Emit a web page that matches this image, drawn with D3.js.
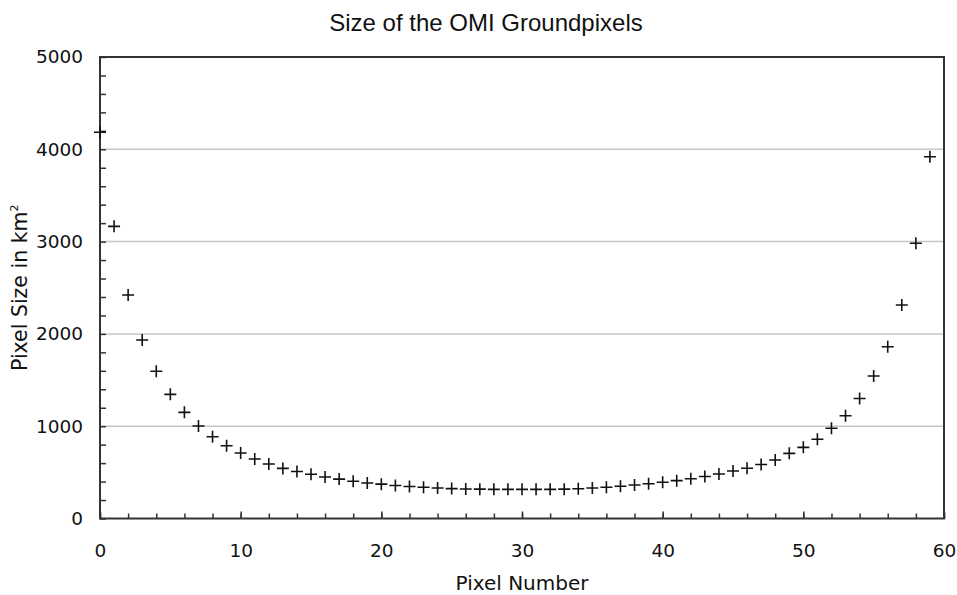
<!DOCTYPE html>
<html>
<head>
<meta charset="utf-8">
<script src="https://cdn.jsdelivr.net/npm/d3@7"></script>
<style>
  html, body { margin: 0; padding: 0; background: #fff; }
  svg { display: block; }
</style>
</head>
<body>
<svg id="chart" width="957" height="595"></svg>
<script>
// ---- data ----
const pixelNumbers = d3.range(0, 60);
const pixelSizes = [
  4185, 3165, 2421, 1934, 1595, 1345, 1150, 1002, 886, 788,
  710, 645, 590, 543, 510, 479, 450, 427, 403, 385,
  372, 358, 347, 338, 330, 324, 320, 318, 316, 316,
  316, 316, 316, 318, 323, 330, 338, 350, 363, 376,
  392, 410, 430, 455, 482, 515, 545, 585, 634, 706,
  771, 858, 977, 1114, 1300, 1544, 1861, 2313, 2982, 3920
];
const xTickLabels = [0, 10, 20, 30, 40, 50, 60];
const yTickLabels = [0, 1000, 2000, 3000, 4000, 5000];
const gridValues = [1000, 2000, 3000, 4000];

const titleText = "Size of the OMI Groundpixels";
const xLabelText = "Pixel Number";

// ---- layout ----
const svg = d3.select("#chart");
const mLeft = 100, mRight = 944, mTop = 57, mBottom = 518.5;

const x = d3.scaleLinear().domain([0, 60]).range([mLeft, mRight]);
const y = d3.scaleLinear().domain([0, 5000]).range([mBottom, mTop]);

const axisColor = "#333";
const tickFont = "DejaVu Sans, Verdana, sans-serif";

// grid lines
svg.append("g")
  .selectAll("line")
  .data(gridValues)
  .join("line")
  .attr("x1", mLeft).attr("x2", mRight)
  .attr("y1", d => y(d)).attr("y2", d => y(d))
  .attr("stroke", "#c8c8c8")
  .attr("stroke-width", 1.5);

// ticks (inward)
const xMinor = d3.axisBottom(x).tickValues(d3.range(0, 61, 2)).tickSize(-5).tickFormat("");
const xMajor = d3.axisBottom(x).tickValues(xTickLabels).tickSize(-7).tickPadding(25).tickFormat(d3.format("d"));
const yMinor = d3.axisLeft(y).tickValues(d3.range(0, 5001, 200)).tickSize(-6).tickFormat("");
const yMajor = d3.axisLeft(y).tickValues(yTickLabels).tickSize(0).tickPadding(17).tickFormat(d3.format("d"));

function styleAxis(g) {
  g.select(".domain").remove();
  g.selectAll(".tick line").attr("stroke", axisColor).attr("stroke-width", 1.5);
  g.selectAll(".tick text")
    .attr("fill", "#111")
    .style("font-family", tickFont)
    .style("font-size", "18.5px");
}

svg.append("g").attr("transform", `translate(0,${mBottom})`).call(xMinor).call(styleAxis);
svg.append("g").attr("transform", `translate(0,${mBottom})`).call(xMajor).call(styleAxis);
svg.append("g").attr("transform", `translate(${mLeft},0)`).call(yMinor).call(styleAxis);
svg.append("g").attr("transform", `translate(${mLeft},0)`).call(yMajor).call(styleAxis);

// frame
svg.append("rect")
  .attr("x", mLeft).attr("y", mTop)
  .attr("width", mRight - mLeft).attr("height", mBottom - mTop)
  .attr("fill", "none")
  .attr("stroke", axisColor)
  .attr("stroke-width", 2);

// markers (plus signs)
const half = 6;
svg.append("g")
  .selectAll("path")
  .data(pixelNumbers.map((p, i) => ({ p, v: pixelSizes[i] })))
  .join("path")
  .attr("d", d => {
    const cx = x(d.p), cy = y(d.v);
    return `M${cx - half},${cy}H${cx + half}M${cx},${cy - half}V${cy + half}`;
  })
  .attr("stroke", "#111")
  .attr("stroke-width", 1.6)
  .attr("fill", "none");

// title
svg.append("text")
  .attr("x", 486).attr("y", 31)
  .attr("text-anchor", "middle")
  .style("font-family", "Liberation Sans, Arial, sans-serif")
  .style("font-size", "24px")
  .attr("fill", "#111")
  .text(titleText);

// x label
svg.append("text")
  .attr("x", (mLeft + mRight) / 2).attr("y", 590)
  .attr("text-anchor", "middle")
  .style("font-family", tickFont)
  .style("font-size", "20px")
  .attr("fill", "#111")
  .text(xLabelText);

// y label
const yl = svg.append("text")
  .attr("transform", `translate(27,${(mTop + mBottom) / 2}) rotate(-90)`)
  .attr("text-anchor", "middle")
  .style("font-family", tickFont)
  .style("font-size", "20.5px")
  .attr("fill", "#111");
yl.append("tspan").text("Pixel Size in km");
yl.append("tspan").attr("dy", -9).style("font-size", "11px").text("2");
</script>
</body>
</html>
